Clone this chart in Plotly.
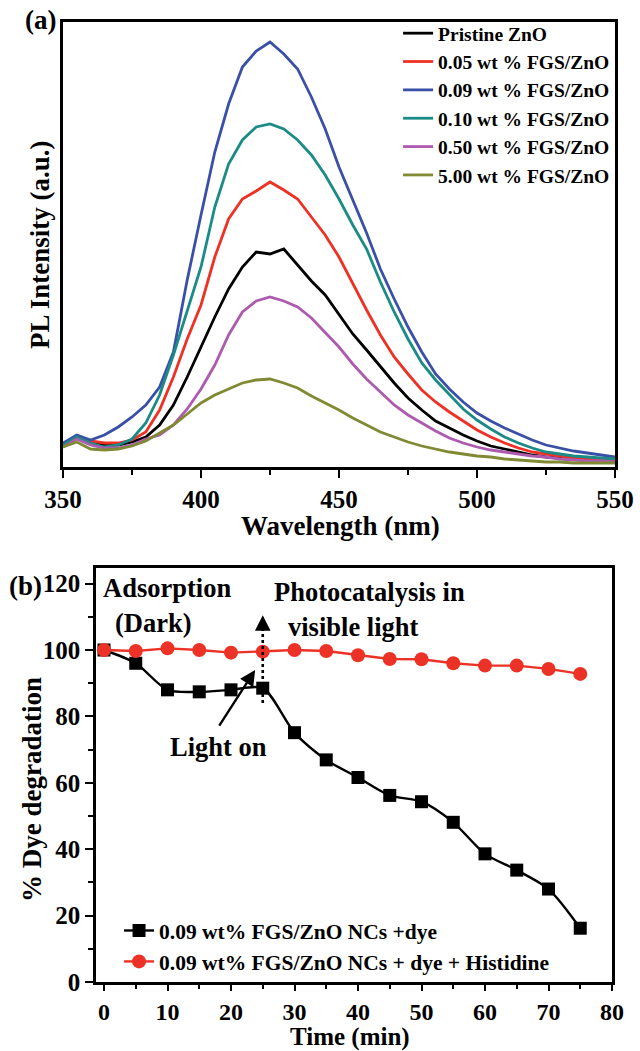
import plotly.graph_objects as go

# ---------------- data: panel (a) PL spectra ----------------
wavelength = list(range(350, 551, 5))

pl_pristine = [22, 30, 25, 22, 22, 25, 30, 42, 62, 90, 120, 150, 178, 200, 215, 213, 218, 202, 186, 172,
               152, 133, 117, 100, 84, 69, 57, 46, 39, 32, 26, 21, 18, 15, 12, 10, 9, 8, 7, 6, 6]
pl_005 = [23, 31, 26, 24, 24, 27, 35, 57, 90, 128, 162, 210, 248, 268, 276, 285, 277, 268, 250, 232,
          210, 183, 157, 132, 110, 93, 77, 65, 55, 46, 37, 30, 24, 19, 15, 13, 11, 9, 8, 7, 7]
pl_009 = [24, 32, 27, 32, 40, 50, 62, 80, 115, 187, 252, 315, 363, 400, 416, 425, 413, 398, 370, 338,
          300, 267, 234, 198, 168, 140, 115, 93, 78, 65, 54, 46, 39, 33, 27, 22, 19, 16, 14, 12, 10]
pl_010 = [22, 30, 24, 20, 22, 28, 44, 72, 112, 155, 200, 260, 303, 327, 340, 343, 338, 327, 312, 292,
          268, 242, 218, 185, 155, 128, 104, 87, 72, 58, 47, 38, 30, 24, 19, 15, 13, 11, 10, 9, 8]
pl_050 = [20, 28, 22, 19, 19, 22, 28, 32, 42, 58, 78, 102, 132, 155, 166, 170, 166, 160, 149, 135,
          120, 103, 88, 75, 62, 52, 44, 36, 29, 24, 20, 17, 15, 13, 11, 10, 8, 7, 6, 6, 5]
pl_500 = [20, 25, 18, 17, 18, 21, 26, 34, 42, 53, 64, 72, 78, 84, 87, 88, 84, 79, 71, 64,
          57, 49, 42, 35, 30, 25, 21, 18, 15, 13, 11, 10, 8, 7, 6, 5, 5, 4, 4, 4, 4]

pl_names = ["Pristine ZnO", "0.05 wt % FGS/ZnO", "0.09 wt % FGS/ZnO",
            "0.10 wt % FGS/ZnO", "0.50 wt % FGS/ZnO", "5.00 wt % FGS/ZnO"]
pl_series = [pl_pristine, pl_005, pl_009, pl_010, pl_050, pl_500]
pl_colors = ["#000000", "#ee3124", "#3a50a6", "#1b8b86", "#ad5baf", "#7f8a33"]

# ---------------- data: panel (b) dye degradation ----------------
time_min = [0, 5, 10, 15, 20, 25, 30, 35, 40, 45, 50, 55, 60, 65, 70, 75]
deg_dye = [100, 96, 88, 87.4, 88, 88.5, 75.1, 66.9, 61.6, 56.2, 54.3, 48.1, 38.6, 33.7, 28.0, 16.2]
deg_histidine = [100, 99.7, 100.5, 100, 99.2, 99.5, 100, 99.7, 98.4, 97.3, 97.2, 96.0, 95.3, 95.3, 94.3, 92.8]
name_dye = "0.09 wt% FGS/ZnO NCs +dye"
name_his = "0.09 wt% FGS/ZnO NCs + dye + Histidine"

FONT = "Liberation Serif"
RED = "#ec3226"
W, H = 640, 1051


def bfont(size, color="black"):
    return dict(family=FONT, size=size, color=color, weight="bold")


fig = go.Figure()

for name, vals, col in zip(pl_names, pl_series, pl_colors):
    fig.add_trace(go.Scatter(x=wavelength, y=vals, mode="lines", name=name,
                             line=dict(color=col, width=2.8),
                             xaxis="x", yaxis="y", legend="legend"))

fig.add_trace(go.Scatter(x=time_min, y=deg_dye, mode="lines+markers", name=name_dye,
                         line=dict(color="black", width=2.4, shape="spline", smoothing=0.8),
                         marker=dict(symbol="square", size=13, color="black"),
                         xaxis="x2", yaxis="y2", legend="legend2"))
fig.add_trace(go.Scatter(x=time_min, y=deg_histidine, mode="lines+markers", name=name_his,
                         line=dict(color=RED, width=2.4),
                         marker=dict(symbol="circle", size=14, color=RED),
                         xaxis="x2", yaxis="y2", legend="legend2"))

axis_common = dict(showline=True, linecolor="black", linewidth=2.6, mirror=True,
                   showgrid=False, zeroline=False, automargin=False)

fig.update_layout(
    width=W, height=H,
    margin=dict(l=0, r=0, t=0, b=0, autoexpand=False),
    paper_bgcolor="white", plot_bgcolor="white",
    font=bfont(25),
    xaxis=dict(domain=[63 / W, 615 / W], anchor="y", range=[350, 550],
               tick0=350, dtick=50, ticks="outside", ticklen=8, tickwidth=2.2, tickcolor="black",
               minor=dict(dtick=25, ticks="outside", ticklen=5, tickwidth=2, tickcolor="black"),
               tickfont=bfont(25), **axis_common),
    yaxis=dict(domain=[1 - 467 / H, 1 - 22 / H], anchor="x", range=[0, 445],
               showticklabels=False, ticks="", **axis_common),
    xaxis2=dict(domain=[96 / W, 612 / W], anchor="y2", range=[-1.26, 80],
                tick0=0, dtick=10, ticks="outside", ticklen=6, tickwidth=2.2, tickcolor="black",
                minor=dict(dtick=5, ticks="outside", ticklen=4, tickwidth=2, tickcolor="black"),
                tickfont=bfont(24), **axis_common),
    yaxis2=dict(domain=[1 - 982 / H, 1 - 568 / H], anchor="x2", range=[0, 124.7],
                tick0=0, dtick=20, ticks="outside", ticklen=8, tickwidth=2.2, tickcolor="black",
                minor=dict(dtick=10, ticks="outside", ticklen=5, tickwidth=2, tickcolor="black"),
                tickfont=bfont(25), **axis_common),
    legend=dict(x=0.622, y=1 - 14 / H, xanchor="left", yanchor="top", font=bfont(19.5),
                bgcolor="rgba(0,0,0,0)", borderwidth=0, tracegroupgap=0),
    legend2=dict(x=0.186, y=1 - 910 / H, xanchor="left", yanchor="top", font=bfont(21.5),
                 bgcolor="rgba(0,0,0,0)", borderwidth=0, tracegroupgap=0),
    showlegend=True,
)

ann = []
# panel labels and axis titles (positions in pixels of the page)
paper_txt = [("(a)", 40, 20, 0, 27), ("(b)", 25, 586, 0, 27),
             ("Wavelength (nm)", 340, 526, 0, 27), ("PL Intensity (a.u.)", 40, 245, -90, 27),
             ("Time (min)", 350, 1037, 0, 25), ("% Dye degradation", 32, 790, -90, 27)]
for t, px, py, ang, fs in paper_txt:
    ann.append(dict(text=t, x=px / W, y=1 - py / H, xref="paper", yref="paper",
                    showarrow=False, font=bfont(fs), textangle=ang, borderpad=0,
                    xanchor="center", yanchor="middle"))

txt = [("Adsorption", -0.4, 118.7, "left"), ("(Dark)", 7.8, 108.1, "center"),
       ("Photocatalysis in", 26.4, 117.5, "left"), ("visible light", 28.6, 106.9, "left"),
       ("Light on", 18.0, 70.8, "center")]
for t, x, y, xa in txt:
    ann.append(dict(text=t, x=x, y=y, xref="x2", yref="y2", showarrow=False,
                    font=bfont(26.5), xanchor=xa, yanchor="middle"))
# solid arrow pointing at the light-on moment
ann.append(dict(text="", x=23.8, y=94, ax=18.0, ay=76.8, xref="x2", yref="y2",
                axref="x2", ayref="y2", showarrow=True, arrowhead=2, arrowsize=1.3,
                arrowwidth=2.4, arrowcolor="black", standoff=0, startstandoff=0))
# head of dotted vertical arrow
ann.append(dict(text="", x=25, y=110.5, ax=25, ay=105.5, xref="x2", yref="y2",
                axref="x2", ayref="y2", showarrow=True, arrowhead=2, arrowsize=1.3,
                arrowwidth=2.4, arrowcolor="black", standoff=0, startstandoff=0))
fig.update_layout(annotations=ann)

fig.add_shape(type="line", xref="x2", yref="y2", x0=25, x1=25, y0=84, y1=107,
              line=dict(color="black", width=2.6, dash="dot"))

fig.write_html("out.html", config={"displayModeBar": False},
               post_script="document.body.style.margin='0';document.body.style.overflow='hidden';")
